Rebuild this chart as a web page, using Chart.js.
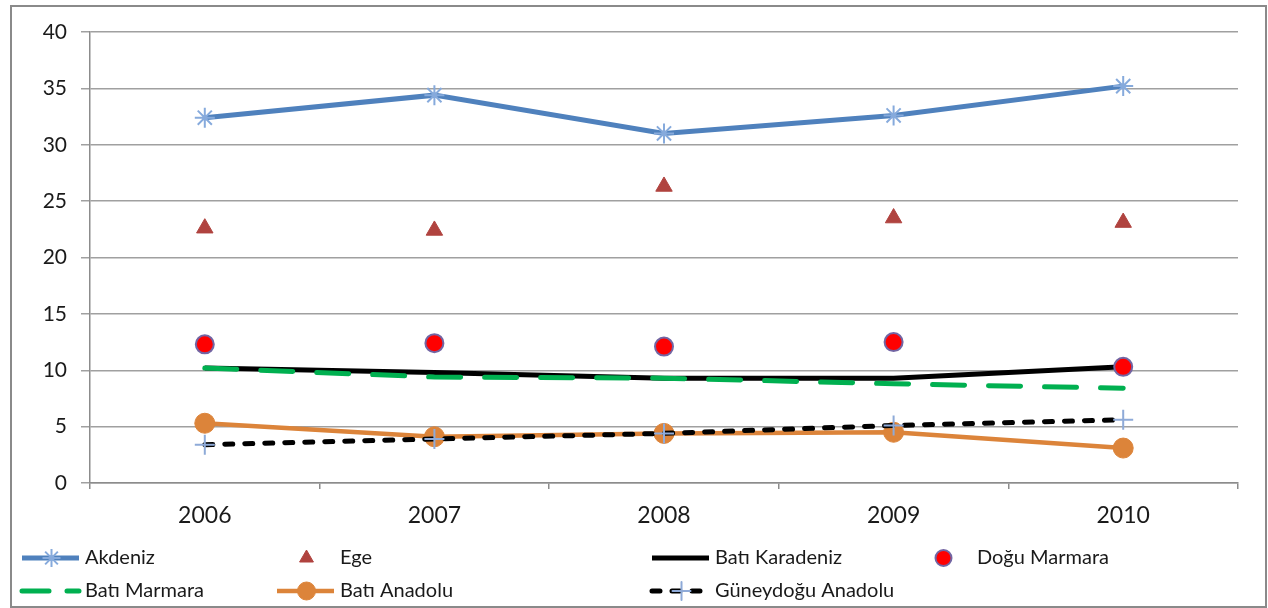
<!DOCTYPE html>
<html>
<head>
<meta charset="utf-8">
<script src="https://cdn.jsdelivr.net/npm/chart.js@4/dist/chart.umd.min.js"></script>
<style>
  html, body { margin: 0; padding: 0; background: #fff; }
  #wrap { position: relative; width: 1268px; height: 608px; }
  #frame { position: absolute; left: 10px; top: 5px; width: 1253px; height: 599px; border: 2px solid #8a8a8a; pointer-events: none; }
  canvas { position: absolute; left: 0; top: 0; }
</style>
</head>
<body>
<div id="wrap">
  <canvas id="chart" width="1268" height="608"></canvas>
  <div id="frame"></div>
</div>
<script>
// Data
const years = ['2006', '2007', '2008', '2009', '2010'];
const akdeniz = [32.4, 34.4, 31.0, 32.6, 35.2];
const ege = [22.6, 22.4, 26.3, 23.5, 23.1];
const batiKaradeniz = [10.2, 9.8, 9.3, 9.3, 10.3];
const doguMarmara = [12.3, 12.4, 12.1, 12.5, 10.3];
const batiMarmara = [10.2, 9.4, 9.3, 8.8, 8.4];
const batiAnadolu = [5.3, 4.1, 4.4, 4.5, 3.1];
const guneydoguAnadolu = [3.4, 3.9, 4.4, 5.1, 5.6];
const yTicks = [0, 5, 10, 15, 20, 25, 30, 35, 40];

const FONT = 'Lato, "Noto Sans", sans-serif';

// Legend drawn in canvas, Excel-like columns
const legendPlugin = {
    id: 'excelLegend',
    afterDraw(chart) {
        const ctx = chart.ctx;
        const cols = [22, 277, 652, 914];
        const rows = [558, 591];
        const sampleW = 57;
        chart.data.datasets.forEach((ds, i) => {
            const x = cols[i % 4];
            const y = rows[Math.floor(i / 4)];
            ctx.save();
            if (ds.showLine !== false) {
                ctx.beginPath();
                ctx.strokeStyle = ds.borderColor;
                ctx.lineWidth = ds.borderWidth;
                ctx.lineCap = ds.borderCapStyle || 'butt';
                ctx.setLineDash(ds.legendDash || []);
                ctx.moveTo(x, y);
                ctx.lineTo(x + sampleW, y);
                ctx.stroke();
                ctx.setLineDash([]);
            }
            if (ds.pointRadius > 0) {
                ctx.fillStyle = ds.pointBackgroundColor;
                ctx.strokeStyle = ds.pointBorderColor;
                ctx.lineWidth = ds.pointBorderWidth;
                Chart.helpers.drawPoint(ctx, {
                    pointStyle: ds.pointStyle,
                    radius: ds.legendRadius || ds.pointRadius,
                    rotation: 0,
                    borderWidth: ds.pointBorderWidth
                }, x + sampleW / 2 + 1, y);
            }
            ctx.fillStyle = '#1a1a1a';
            ctx.font = '20px ' + FONT;
            ctx.textBaseline = 'middle';
            ctx.textAlign = 'left';
            const tx = ds.showLine === false ? x + 63 : x + sampleW + 6;
            ctx.fillText(ds.label, tx, y);
            ctx.restore();
        });
    }
};

const ctx = document.getElementById('chart').getContext('2d');
new Chart(ctx, {
    type: 'line',
    data: {
        labels: years,
        datasets: [
            {
                label: 'Akdeniz',
                data: akdeniz,
                borderColor: '#4f81bd',
                borderWidth: 5,
                pointStyle: 'star',
                pointRadius: 10,
                pointBorderColor: '#86aadc',
                pointBackgroundColor: '#86aadc',
                pointBorderWidth: 2,
                legendRadius: 9,
                order: 6
            },
            {
                label: 'Ege',
                data: ege,
                showLine: false,
                pointStyle: 'triangle',
                pointRadius: 9.5,
                pointBackgroundColor: '#b0433f',
                pointBorderColor: '#b0433f',
                pointBorderWidth: 1,
                legendRadius: 8,
                order: 5
            },
            {
                label: 'Batı Karadeniz',
                data: batiKaradeniz,
                borderColor: '#000000',
                borderWidth: 5,
                pointRadius: 0,
                order: 4
            },
            {
                label: 'Doğu Marmara',
                data: doguMarmara,
                showLine: false,
                pointStyle: 'circle',
                pointRadius: 9,
                pointBackgroundColor: '#ff0000',
                pointBorderColor: '#7265a3',
                pointBorderWidth: 2,
                legendRadius: 8,
                order: 3
            },
            {
                label: 'Batı Marmara',
                data: batiMarmara,
                borderColor: '#00b050',
                borderWidth: 5,
                borderDash: [32, 24],
                borderCapStyle: 'round',
                legendDash: [27, 18],
                pointRadius: 0,
                order: 2
            },
            {
                label: 'Batı Anadolu',
                data: batiAnadolu,
                borderColor: '#dc843a',
                borderWidth: 4.5,
                pointStyle: 'circle',
                pointRadius: 10,
                pointBackgroundColor: '#dc843a',
                pointBorderColor: '#dc843a',
                pointBorderWidth: 1,
                legendRadius: 9,
                order: 1
            },
            {
                label: 'Güneydoğu Anadolu',
                data: guneydoguAnadolu,
                borderColor: '#000000',
                borderWidth: 5,
                borderDash: [8, 12],
                borderCapStyle: 'round',
                legendDash: [8, 12],
                pointStyle: 'cross',
                pointRadius: 10,
                pointBackgroundColor: '#8eaad8',
                pointBorderColor: '#8eaad8',
                pointBorderWidth: 2,
                legendRadius: 9,
                order: 0
            }
        ]
    },
    options: {
        responsive: false,
        animation: false,
        layout: { padding: { left: 0, right: 30, top: 32, bottom: 75 } },
        plugins: {
            legend: { display: false },
            tooltip: { enabled: false }
        },
        elements: { line: { tension: 0 } },
        scales: {
            x: {
                offset: true,
                afterFit: (scale) => { scale.height = 50; },
                grid: {
                    offset: true,
                    drawOnChartArea: false,
                    drawTicks: true,
                    tickLength: 6,
                    color: '#8c8c8c',
                    lineWidth: 1.5
                },
                border: { color: '#8c8c8c', width: 1.5 },
                ticks: {
                    padding: 13,
                    color: '#1a1a1a',
                    font: { family: FONT, size: 23 }
                }
            },
            y: {
                min: 0,
                max: 40,
                afterFit: (scale) => { scale.width = 90; },
                afterBuildTicks: (scale) => { scale.ticks = yTicks.map(v => ({ value: v })); },
                grid: {
                    color: '#a0a0a0',
                    lineWidth: 1.5,
                    drawTicks: true,
                    tickLength: 9
                },
                border: { color: '#8c8c8c', width: 1.5 },
                ticks: {
                    padding: 14,
                    color: '#1a1a1a',
                    font: { family: FONT, size: 21 }
                }
            }
        }
    },
    plugins: [legendPlugin]
});
</script>
</body>
</html>
